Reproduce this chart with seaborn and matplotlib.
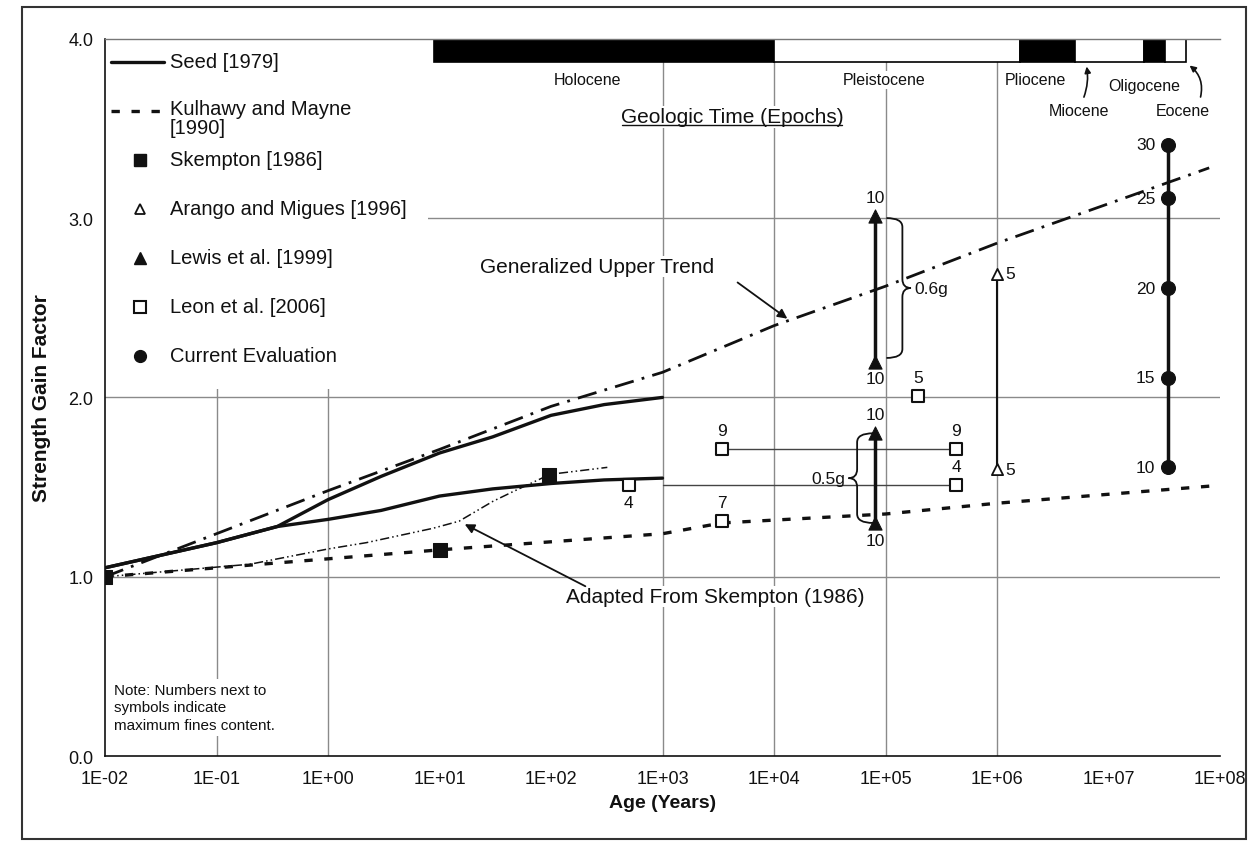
import numpy as np
import matplotlib.pyplot as plt
import matplotlib.ticker as mticker
import matplotlib.transforms as mtransforms
from matplotlib.path import Path
from matplotlib.patches import PathPatch, Rectangle
from matplotlib.lines import Line2D
import seaborn as sns

# --- values ---
# Seed [1979] upper / lower curves
seed_x = [0.01, 0.1, 0.35, 1, 3, 10, 30, 100, 300, 1000]
seed_upper_y = [1.05, 1.19, 1.28, 1.43, 1.56, 1.69, 1.78, 1.90, 1.96, 2.00]
seed_lower_y = [1.05, 1.19, 1.28, 1.32, 1.37, 1.45, 1.49, 1.52, 1.54, 1.55]

# Kulhawy and Mayne [1990]
kulhawy_x = [0.01, 10, 1e3, 3.4e3, 1e5, 1e6, 1e8]
kulhawy_y = [1.00, 1.15, 1.24, 1.30, 1.35, 1.41, 1.51]

# Generalized upper trend
trend_x = [0.01, 0.1, 1, 10, 100, 1e3, 1e4, 1e5, 1e6, 1e7, 8e7]
trend_y = [1.00, 1.24, 1.48, 1.71, 1.95, 2.14, 2.40, 2.62, 2.86, 3.08, 3.28]

# Adapted from Skempton (1986)
adapted_x = [0.01, 0.2, 1, 2.2, 8.7, 15, 30, 44, 83, 95, 320]
adapted_y = [1.00, 1.07, 1.155, 1.19, 1.27, 1.31, 1.42, 1.47, 1.55, 1.57, 1.61]

skempton_x = [0.01, 10, 95]
skempton_y = [1.00, 1.15, 1.57]

arango_x = [1e6, 1e6]
arango_y = [2.69, 1.60]
arango_fines = [5, 5]

lewis_x = [8.1e4, 8.1e4, 8.1e4, 8.1e4]
lewis_y = [3.01, 2.20, 1.80, 1.30]
lewis_fines = [10, 10, 10, 10]
lewis_side = ["above", "below", "above", "below"]

leon_x = [500, 3.4e3, 3.4e3, 1.95e5, 4.3e5, 4.3e5]
leon_y = [1.51, 1.71, 1.31, 2.01, 1.71, 1.51]
leon_fines = [4, 9, 7, 5, 9, 4]
leon_side = ["below", "above", "above", "above", "above", "above"]

current_x = [3.4e7, 3.4e7, 3.4e7, 3.4e7, 3.4e7]
current_y = [3.41, 3.11, 2.61, 2.11, 1.61]
current_fines = [30, 25, 20, 15, 10]

# geologic epochs (years)
epoch_names = ["Holocene", "Pleistocene", "Pliocene", "Miocene", "Oligocene", "Eocene"]
epoch_start = [9, 1e4, 1.6e6, 5e6, 2.1e7, 3.2e7]
epoch_end = [1e4, 1.6e6, 5e6, 2.1e7, 3.2e7, 5e7]
epoch_dark = [True, False, True, False, True, False]

sns.set_style("white")
plt.rcParams["font.family"] = ["Liberation Sans", "DejaVu Sans"]
INK = "#111111"

fig, ax = plt.subplots(figsize=(12.5, 8.45), dpi=100)
fig.subplots_adjust(left=0.084, right=0.976, bottom=0.104, top=0.953)
ax.set_xscale("log")
ax.set_xlim(1e-2, 1e8)
ax.set_ylim(0, 4)

# partial grid like the original
for yv in [1, 2, 3]:
    ax.axhline(yv, color="#8a8a8a", lw=1, zorder=1)
for xv in [0.1, 1, 1e3, 1e4, 1e5, 1e6]:
    ax.axvline(xv, color="#8a8a8a", lw=1, zorder=1)

# curves
sns.lineplot(x=seed_x, y=seed_upper_y, color=INK, lw=2.4, estimator=None, sort=False, ax=ax, zorder=3)
sns.lineplot(x=seed_x, y=seed_lower_y, color=INK, lw=2.4, estimator=None, sort=False, ax=ax, zorder=3)
sns.lineplot(x=kulhawy_x, y=kulhawy_y, color=INK, lw=2.4, linestyle=(0, (2.5, 3.5)),
             estimator=None, sort=False, ax=ax, zorder=3)
sns.lineplot(x=trend_x, y=trend_y, color=INK, lw=2.0, linestyle=(0, (7, 3, 1, 3)),
             estimator=None, sort=False, ax=ax, zorder=3)
sns.lineplot(x=adapted_x, y=adapted_y, color=INK, lw=1.1, linestyle=(0, (6, 2, 1, 2, 1, 2)),
             estimator=None, sort=False, ax=ax, zorder=3)

# connectors
ax.plot([lewis_x[0], lewis_x[1]], [lewis_y[0], lewis_y[1]], color=INK, lw=2.5, zorder=4)
ax.plot([lewis_x[2], lewis_x[3]], [lewis_y[2], lewis_y[3]], color=INK, lw=2.5, zorder=4)
ax.plot(arango_x, arango_y, color=INK, lw=1.5, zorder=4)
ax.plot([current_x[0], current_x[-1]], [current_y[0], current_y[-1]], color=INK, lw=2.5, zorder=4)
ax.plot([leon_x[1], leon_x[4]], [leon_y[1], leon_y[4]], color="#444444", lw=1, zorder=2)
ax.plot([seed_x[-1], leon_x[5]], [leon_y[5], leon_y[5]], color="#444444", lw=1, zorder=2)

# markers
sns.scatterplot(x=skempton_x, y=skempton_y, marker="s", s=90, color=INK, edgecolor=INK, ax=ax, zorder=6)
sns.scatterplot(x=arango_x, y=arango_y, marker="^", s=65, color="white", edgecolor=INK,
                linewidth=1.3, ax=ax, zorder=6)
sns.scatterplot(x=lewis_x, y=lewis_y, marker="^", s=90, color=INK, edgecolor=INK, ax=ax, zorder=6)
sns.scatterplot(x=leon_x, y=leon_y, marker="s", s=80, color="white", edgecolor=INK,
                linewidth=1.5, ax=ax, zorder=6)
sns.scatterplot(x=current_x, y=current_y, marker="o", s=100, color=INK, edgecolor=INK, ax=ax, zorder=6)

# fines content labels
offsets = {"above": ((0, 8), "center", "bottom"), "below": ((0, -7), "center", "top"),
           "right": ((6, 0), "left", "center"), "left": ((-9, 0), "right", "center")}


def fines_labels(xs, ys, vals, sides):
    for x, y, v, side in zip(xs, ys, vals, sides):
        off, ha, va = offsets[side]
        ax.annotate(str(v), (x, y), xytext=off, textcoords="offset points",
                    ha=ha, va=va, fontsize=12.5, color=INK, zorder=7)


fines_labels(lewis_x, lewis_y, lewis_fines, lewis_side)
fines_labels(leon_x, leon_y, leon_fines, leon_side)
fines_labels(arango_x, arango_y, arango_fines, ["right"] * len(arango_x))
fines_labels(current_x, current_y, current_fines, ["left"] * len(current_x))

# braces for the Lewis et al. ranges
blend = mtransforms.blended_transform_factory(ax.transAxes, ax.transData)


def brace(x_in, tip, y0, y1, r=0.05):
    xb = x_in + 0.65 * (tip - x_in)
    ym = (y0 + y1) / 2
    verts = [(x_in, y1), (xb, y1), (xb, y1 - r), (xb, ym + r), (xb, ym), (tip, ym),
             (xb, ym), (xb, ym - r), (xb, y0 + r), (xb, y0), (x_in, y0)]
    codes = [Path.MOVETO, Path.CURVE3, Path.CURVE3, Path.LINETO, Path.CURVE3, Path.CURVE3,
             Path.CURVE3, Path.CURVE3, Path.LINETO, Path.CURVE3, Path.CURVE3]
    ax.add_patch(PathPatch(Path(verts, codes), transform=blend, fill=False,
                           ec=INK, lw=1.3, zorder=5))
    return ym


fx = (np.log10(lewis_x[0]) + 2) / 10
ym = brace(fx + 0.010, fx + 0.032, lewis_y[1] + 0.02, lewis_y[0] - 0.01)
ax.text(fx + 0.035, ym, "0.6g", transform=blend, ha="left", va="center", fontsize=12.5, color=INK)
ym = brace(fx - 0.002, fx - 0.024, lewis_y[3], lewis_y[2])
ax.text(fx - 0.027, ym, "0.5g", transform=blend, ha="right", va="center", fontsize=12.5, color=INK)

# geologic time bar
ax.barh(y=3.935, width=np.array(epoch_end) - np.array(epoch_start), left=epoch_start, height=0.13,
        color=["black" if d else "white" for d in epoch_dark], edgecolor="black", lw=1.2, zorder=4)
epoch_label_pos = {"Holocene": (214, 3.77), "Pleistocene": (9.8e4, 3.77), "Pliocene": (2.2e6, 3.77),
                   "Oligocene": (2.1e7, 3.74), "Miocene": (5.4e6, 3.60), "Eocene": (4.6e7, 3.60)}
for name in epoch_names:
    px, py = epoch_label_pos[name]
    ax.text(px, py, name, ha="center", va="center", fontsize=11.5, color=INK, zorder=5,
            bbox=dict(fc="white", ec="none", pad=1))
ax.annotate("", xy=(6.3e6, 3.86), xytext=(5.9e6, 3.66),
            arrowprops=dict(arrowstyle="-|>", color=INK, lw=1.2, mutation_scale=9,
                            connectionstyle="arc3,rad=0.15"), zorder=5)
ax.annotate("", xy=(5.1e7, 3.86), xytext=(6.6e7, 3.66),
            arrowprops=dict(arrowstyle="-|>", color=INK, lw=1.2, mutation_scale=9,
                            connectionstyle="arc3,rad=0.35"), zorder=5)
geo = ax.text(4.2e3, 3.565, "Geologic Time (Epochs)", ha="center", va="center", fontsize=15,
              color=INK, zorder=5, bbox=dict(fc="white", ec="none", pad=1))

# annotations
ax.text(23, 2.73, "Generalized Upper Trend", ha="left", va="center", fontsize=15, color=INK,
        zorder=5, bbox=dict(fc="white", ec="none", pad=1))
ax.annotate("", xy=(1.38e4, 2.43), xytext=(4.5e3, 2.65),
            arrowprops=dict(arrowstyle="-|>", color=INK, lw=1.3, mutation_scale=14), zorder=5)
ax.text(135, 0.89, "Adapted From Skempton (1986)", ha="left", va="center", fontsize=15, color=INK,
        zorder=5, bbox=dict(fc="white", ec="none", pad=1))
ax.annotate("", xy=(16, 1.30), xytext=(214, 0.94),
            arrowprops=dict(arrowstyle="-|>", color=INK, lw=1.3, mutation_scale=14), zorder=5)

ax.text(0.0085, 0.068, "Note: Numbers next to\nsymbols indicate\nmaximum fines content.",
        transform=ax.transAxes, ha="left", va="center", fontsize=11,
        linespacing=1.3, color=INK, zorder=5, bbox=dict(fc="white", ec="none", pad=3))

# hand-made legend box, as in the source figure
ax.add_patch(Rectangle((0, 0.512), 0.29, 0.488, transform=ax.transAxes, fc="white", ec="none", zorder=3.5))
legend_entries = [
    ("Seed [1979]", dict(ls="-", lw=2.4)),
    ("Kulhawy and Mayne\n[1990]", dict(ls=(0, (2.5, 3.5)), lw=2.4)),
    ("Skempton [1986]", dict(ls="none", marker="s", ms=8, mfc=INK)),
    ("Arango and Migues [1996]", dict(ls="none", marker="^", ms=7.5, mfc="white", mew=1.3)),
    ("Lewis et al. [1999]", dict(ls="none", marker="^", ms=9, mfc=INK)),
    ("Leon et al. [2006]", dict(ls="none", marker="s", ms=8, mfc="white", mew=1.5)),
    ("Current Evaluation", dict(ls="none", marker="o", ms=8.5, mfc=INK)),
]
for i, (label, style) in enumerate(legend_entries):
    ye = 0.968 - i * 0.0683
    if style.get("ls") == "none":
        ax.add_line(Line2D([0.031], [ye], transform=ax.transAxes, color=INK, mec=INK, zorder=4, **style))
    else:
        ax.add_line(Line2D([0.005, 0.0525], [ye, ye], transform=ax.transAxes, color=INK, zorder=4, **style))
    if "\n" in label:
        ax.text(0.058, ye + 0.016, label, transform=ax.transAxes, ha="left", va="top",
                fontsize=14.5, color=INK, linespacing=1.0, zorder=4)
    else:
        ax.text(0.058, ye, label, transform=ax.transAxes, ha="left", va="center",
                fontsize=14.5, color=INK, zorder=4)

# axes, ticks
exps = list(range(-2, 9))
ax.xaxis.set_major_locator(mticker.FixedLocator([10.0 ** k for k in exps]))
ax.xaxis.set_major_formatter(mticker.FixedFormatter([f"1E{k:+03d}" for k in exps]))
ax.xaxis.set_minor_locator(mticker.LogLocator(base=10, subs=np.arange(2, 10), numticks=100))
ax.xaxis.set_minor_formatter(mticker.NullFormatter())
ax.yaxis.set_major_locator(mticker.MultipleLocator(1.0))
ax.yaxis.set_minor_locator(mticker.MultipleLocator(0.5))
ax.yaxis.set_major_formatter(mticker.FormatStrFormatter("%.1f"))
ax.tick_params(axis="x", which="major", direction="inout", length=8, width=1, labelsize=13,
               pad=6, colors=INK)
ax.tick_params(axis="x", which="minor", direction="inout", length=5, width=0.8, colors=INK)
ax.tick_params(axis="y", which="major", direction="out", length=5, width=1, labelsize=13, colors=INK)
ax.tick_params(axis="y", which="minor", direction="out", length=3, width=0.8, colors=INK)

ax.set_xlabel("Age (Years)", fontsize=14, fontweight="bold", labelpad=5, color=INK)
ax.set_ylabel("Strength Gain Factor", fontsize=15, fontweight="bold", labelpad=12, color=INK)

for side in ["left", "bottom"]:
    ax.spines[side].set_color(INK)
    ax.spines[side].set_linewidth(1.2)
ax.spines["top"].set_color("#777777")
ax.spines["top"].set_linewidth(1)
ax.spines["right"].set_visible(False)
for sp in ax.spines.values():
    sp.set_zorder(6)

fig.add_artist(Rectangle((0.0176, 0.006), 0.979, 0.985, transform=fig.transFigure,
                         fill=False, lw=1.5, ec="#333333"))

# underline for the epoch heading
fig.canvas.draw()
bb = geo.get_window_extent()
fig.add_artist(Line2D([bb.x0 + 1, bb.x1 - 1], [bb.y0 + 1, bb.y0 + 1],
                      transform=mtransforms.IdentityTransform(), color=INK, lw=1))

fig.savefig("out.png", dpi=100)
